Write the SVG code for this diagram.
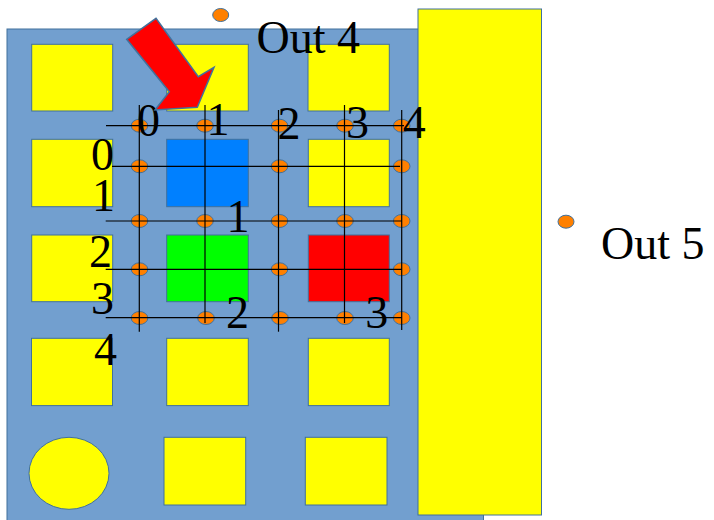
<svg xmlns="http://www.w3.org/2000/svg" width="714" height="520" viewBox="0 0 714 520">
<style>
.bg{fill:#729fcf;stroke:#41719c;stroke-width:1}
.y{fill:#ffff00;stroke:#41719c;stroke-width:1}
.dot{fill:#ff8000;stroke:#41719c;stroke-width:1}
.ln{stroke:#000;stroke-width:1.2;fill:none}
.t{font-family:"Liberation Serif","Times New Roman",serif;font-size:46px;fill:#000}
</style>
<rect fill="#fff" width="714" height="520"/>
<g id="board"><rect class="bg" x="7" y="29" width="476.5" height="495"/></g>
<g id="side"><rect class="y" x="418" y="9" width="123.5" height="506"/></g>
<g id="cells">
<rect id="c11" class="y" x="31.7" y="44.3" width="81" height="66.7"/>
<rect id="c12" class="y" x="166.7" y="44.3" width="81.6" height="66.7"/>
<rect id="c13" class="y" x="308" y="44.3" width="81.3" height="66.7"/>
<rect id="c21" class="y" x="31.7" y="139.3" width="81" height="67.4"/>
<rect id="c22" x="166.7" y="139.3" width="81.6" height="67.4" fill="#0080ff" stroke="#41719c"/>
<rect id="c23" class="y" x="308.3" y="139.3" width="81" height="67.4"/>
<rect id="c31" class="y" x="31.7" y="235" width="81" height="66.7"/>
<rect id="c32" x="166.7" y="235" width="81.6" height="66.7" fill="#00ff00" stroke="#41719c"/>
<rect id="c33" x="308.3" y="235" width="81" height="66.7" fill="#ff0000" stroke="#41719c"/>
<rect id="c41" class="y" x="31.5" y="338.3" width="81" height="67.3"/>
<rect id="c42" class="y" x="166.7" y="338.3" width="81.6" height="67.3"/>
<rect id="c43" class="y" x="308.3" y="338.3" width="81" height="67.3"/>
<ellipse id="c51" class="y" cx="69" cy="473.3" rx="40" ry="36"/>
<rect id="c52" class="y" x="164" y="437.3" width="81.7" height="67.7"/>
<rect id="c53" class="y" x="305.3" y="437.3" width="81.7" height="67.7"/>
</g>
<g id="dots">
<ellipse class="dot" cx="220.7" cy="15" rx="8" ry="6.5"/>
<ellipse class="dot" cx="566" cy="221.7" rx="8" ry="6.5"/>
<ellipse class="dot" cx="139.5" cy="125.7" rx="8.3" ry="6.5"/>
<ellipse class="dot" cx="205" cy="125.7" rx="8.3" ry="6.5"/>
<ellipse class="dot" cx="279.5" cy="125.7" rx="8.3" ry="6.5"/>
<ellipse class="dot" cx="345" cy="125.7" rx="8.3" ry="6.5"/>
<ellipse class="dot" cx="401.7" cy="125.7" rx="8.3" ry="6.5"/>
<ellipse class="dot" cx="139.5" cy="166.3" rx="8.3" ry="6.5"/>
<ellipse class="dot" cx="279.5" cy="166.3" rx="8.3" ry="6.5"/>
<ellipse class="dot" cx="401.7" cy="166.3" rx="8.3" ry="6.5"/>
<ellipse class="dot" cx="139.5" cy="221" rx="8.3" ry="6.5"/>
<ellipse class="dot" cx="205" cy="221" rx="8.3" ry="6.5"/>
<ellipse class="dot" cx="279.5" cy="221" rx="8.3" ry="6.5"/>
<ellipse class="dot" cx="345" cy="221" rx="8.3" ry="6.5"/>
<ellipse class="dot" cx="401.7" cy="221" rx="8.3" ry="6.5"/>
<ellipse class="dot" cx="139.5" cy="269.3" rx="8.3" ry="6.5"/>
<ellipse class="dot" cx="279.5" cy="269.3" rx="8.3" ry="6.5"/>
<ellipse class="dot" cx="401.7" cy="269.3" rx="8.3" ry="6.5"/>
<ellipse class="dot" cx="139.5" cy="318" rx="8.3" ry="6.5"/>
<ellipse class="dot" cx="206" cy="318" rx="8.3" ry="6.5"/>
<ellipse class="dot" cx="280" cy="318" rx="8.3" ry="6.5"/>
<ellipse class="dot" cx="345" cy="318" rx="8.3" ry="6.5"/>
<ellipse class="dot" cx="401.7" cy="318" rx="8.3" ry="6.5"/>
</g>
<g id="connectors">
<line class="ln" x1="106" y1="125.7" x2="404" y2="125.7"/>
<line class="ln" x1="112" y1="166.3" x2="400" y2="166.3"/>
<line class="ln" x1="105.7" y1="221" x2="402" y2="221"/>
<line class="ln" x1="105.7" y1="269.3" x2="402" y2="269.3"/>
<line class="ln" x1="105.7" y1="317.7" x2="402" y2="317.7"/>
<line class="ln" x1="139.3" y1="105" x2="139.3" y2="331.7"/>
<line class="ln" x1="205" y1="105" x2="205" y2="323"/>
<line class="ln" x1="278.5" y1="110" x2="278.5" y2="331.7"/>
<line class="ln" x1="344.5" y1="105" x2="344.5" y2="323"/>
<line class="ln" x1="401.7" y1="110" x2="401.7" y2="330"/>
</g>
<g id="labels">
<text class="t" x="256.5" y="52.5">Out 4</text>
<text class="t" x="601" y="259">Out 5</text>
<text class="t" x="137" y="136">0</text>
<text class="t" x="206.6" y="135">1</text>
<text class="t" x="277.6" y="139">2</text>
<text class="t" x="346" y="138">3</text>
<text class="t" x="402.7" y="138">4</text>
<text class="t" x="91" y="169.5">0</text>
<text class="t" x="92" y="211">1</text>
<text class="t" x="89" y="266.5">2</text>
<text class="t" x="91" y="314">3</text>
<text class="t" x="94" y="365">4</text>
<text class="t" x="226.6" y="231.5">1</text>
<text class="t" x="226" y="328">2</text>
<text class="t" x="365.3" y="327.5">3</text>
</g>
<g id="arrow"><polygon points="126.7,39.3 156,18.3 198.3,76.7 214,67.3 197.3,107.3 155,110 169.3,91.7" fill="#ff0000" stroke="#41719c" stroke-width="1.5" stroke-linejoin="miter"/></g>
</svg>
